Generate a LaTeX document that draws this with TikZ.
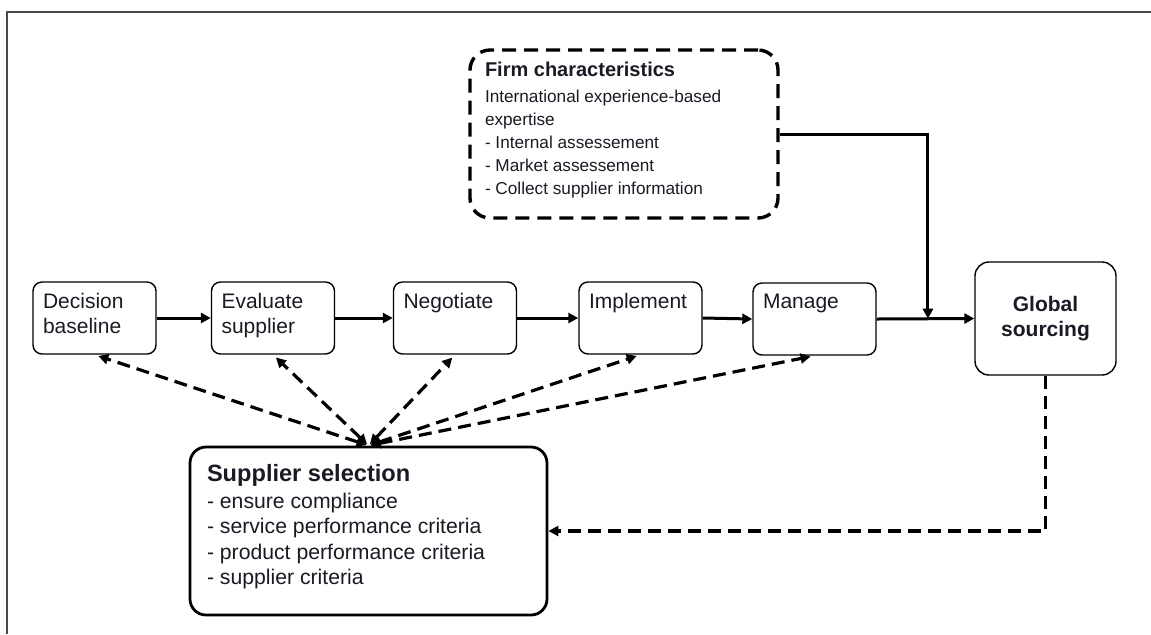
\documentclass[tikz,border=0pt]{standalone}
\usepackage{fontspec}
\setmainfont{Liberation Sans}
\usetikzlibrary{arrows.meta,calc}
\definecolor{ink}{HTML}{1A1A24}
\definecolor{frameline}{HTML}{4A4A4A}
\newcommand{\stagetext}[1]{\parbox[t][25pt][t]{51.5pt}{\raggedright\fontsize{10.5}{12.5}\selectfont #1}}
\newcommand{\flow}[2]{\draw[flowline] (#1.east) -- (#2.west);}
\newcommand{\link}[1]{\draw[linkline] (supp.north) -- (#1.south);}

\begin{document}
\begin{tikzpicture}[x=0.5pt,y=-0.5pt,
  stage/.style={draw, line width=0.7pt, rounded corners=4.5pt, inner xsep=5pt, inner ysep=5.5pt, text=ink},
  flowline/.style={-{Triangle[length=5pt,width=5pt]}, line width=1.5pt},
  linkline/.style={{Triangle[length=5pt,width=5pt]}-{Triangle[length=5pt,width=5pt]},
    line width=1.6pt, dash pattern=on 6.5pt off 3.5pt, shorten >=2pt, shorten <=1pt},
  backline/.style={-{Triangle[length=5pt,width=5pt]}, line width=1.6pt, dash pattern=on 6.5pt off 3.5pt}]

\useasboundingbox (0,0) rectangle (1151,634);
\draw[frameline, line width=1pt] (7,634) -- (7,11.5) -- (1151,11.5);

% process chain
\node[stage] (dec) at (94.5,318) {\stagetext{Decision\\baseline}};
\node[stage] (eva) at (273,318) {\stagetext{Evaluate\\supplier}};
\node[stage] (neg) at (455,318) {\stagetext{Negotiate}};
\node[stage] (imp) at (640.5,318) {\stagetext{Implement}};
\node[stage] (man) at (814.5,319) {\stagetext{Manage}};
\node[stage, rounded corners=7pt, minimum width=70.5pt, minimum height=56.5pt, align=center,
      font=\fontsize{10.5}{12.5}\selectfont\bfseries] (glob) at (1045.5,318.5) {Global\\sourcing};

% firm characteristics
\node[draw, line width=1.7pt, dash pattern=on 7pt off 4pt, rounded corners=10pt,
      inner xsep=7.5pt, inner ysep=6pt, text=ink] (firm) at (624,134)
  {\parbox[t][72pt][t]{139pt}{\raggedright{\fontsize{10}{12}\selectfont\bfseries Firm characteristics\par}\vspace{1.5pt}%
   \fontsize{8.6}{11.5}\selectfont International experience-based\\expertise\\- Internal assessement\\- Market assessement\\- Collect supplier information}};

% supplier selection
\node[draw, line width=1.4pt, rounded corners=8pt, inner sep=8.5pt, text=ink] (supp) at (368.5,531)
  {\parbox[t][67pt][t]{161.5pt}{\raggedright{\fontsize{11.8}{13}\selectfont\bfseries Supplier selection\par}\vspace{0.7pt}%
   \fontsize{10.6}{12.8}\selectfont - ensure compliance\\- service performance criteria\\- product performance criteria\\- supplier criteria}};

\flow{dec}{eva}
\flow{eva}{neg}
\flow{neg}{imp}
\flow{imp}{man}
\flow{man}{glob}

\path (man.east) -- (glob.west) coordinate[pos=0.525] (join);
\draw[flowline] (firm.east) -| (join);

\foreach \s in {dec,eva,neg,imp,man} {\link{\s}}

\draw[backline] (glob.south) |- (supp.east);

\end{tikzpicture}
\end{document}
